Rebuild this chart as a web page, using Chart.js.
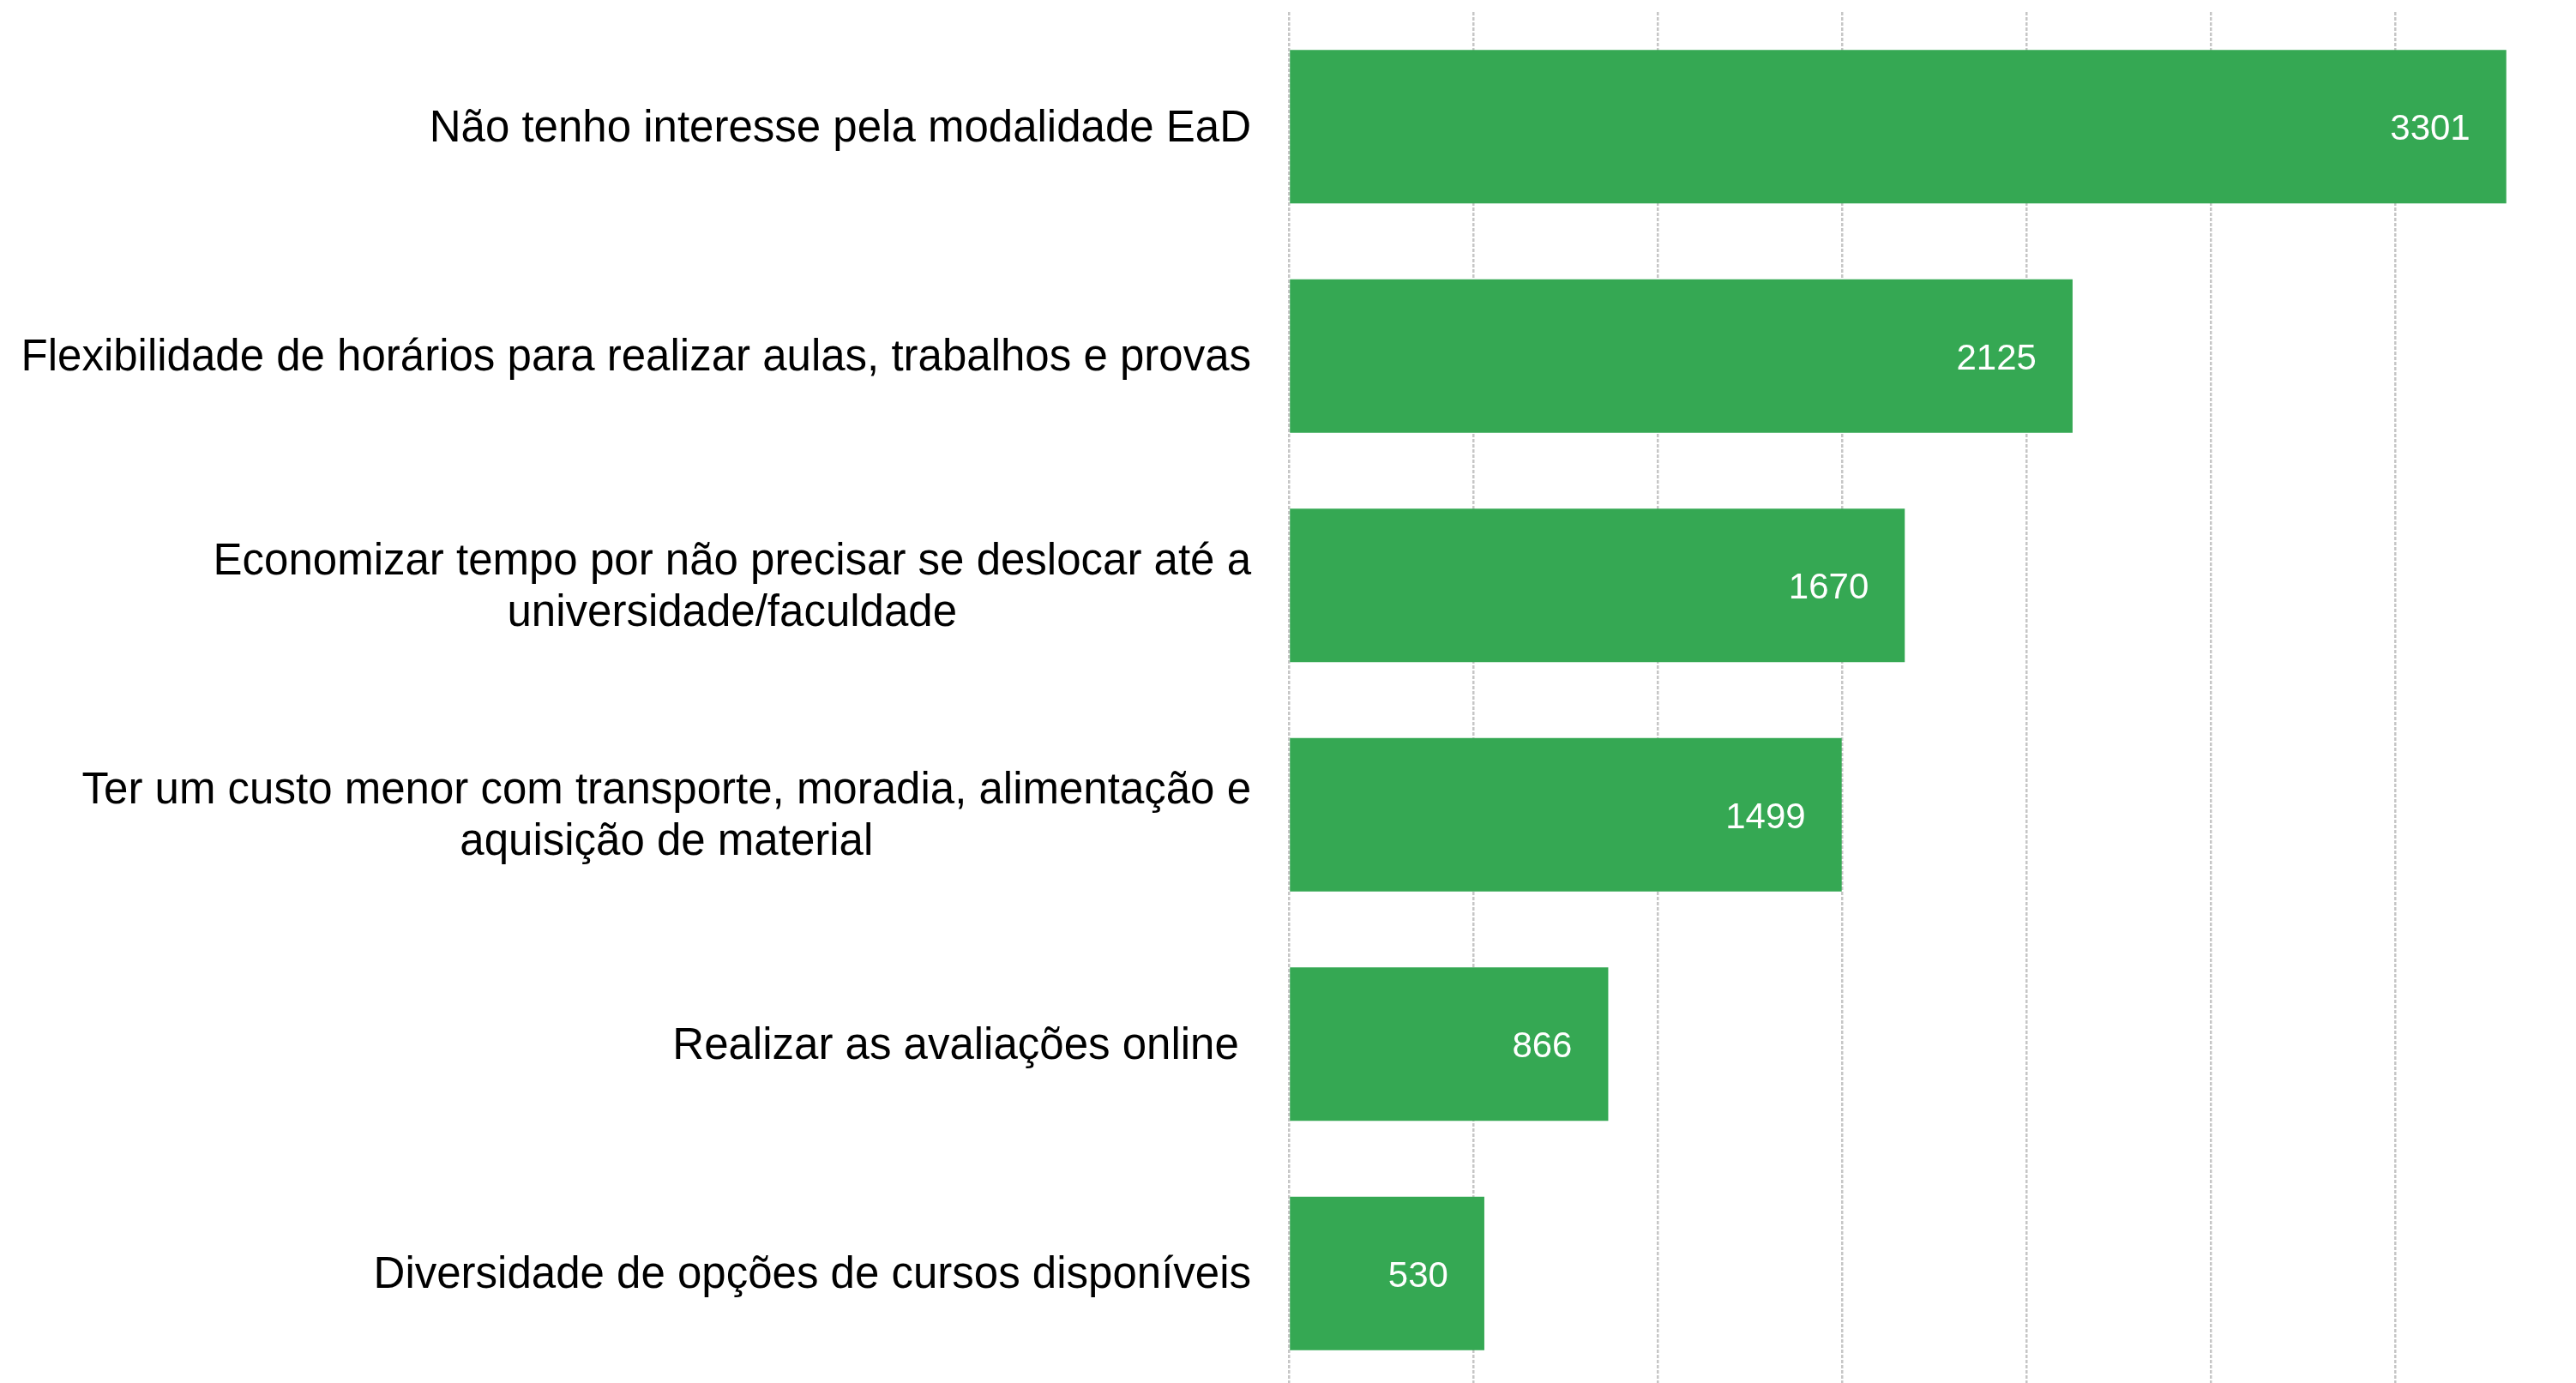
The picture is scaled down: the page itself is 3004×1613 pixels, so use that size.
<!DOCTYPE html>
<html>
<head>
<meta charset="utf-8">
<script src="https://cdn.jsdelivr.net/npm/chart.js@4/dist/chart.umd.min.js"></script>
<style>
  html, body { margin: 0; padding: 0; background: #fff; overflow: hidden; }
  #wrap { position: relative; width: 3004px; height: 1620px; }
</style>
</head>
<body>
<div id="wrap"><canvas id="chart"></canvas></div>
<script>
    const categories = [
      ['Não tenho interesse pela modalidade EaD'],
      ['Flexibilidade de horários para realizar aulas, trabalhos e provas'],
      ['Economizar tempo por não precisar se deslocar até a', 'universidade/faculdade'],
      ['Ter um custo menor com transporte, moradia, alimentação e', 'aquisição de material'],
      ['Realizar as avaliações online '],
      ['Diversidade de opções de cursos disponíveis']
    ];
    const values = [3301, 2125, 1670, 1499, 866, 530];
    const xTicks = [0, 500, 1000, 1500, 2000, 2500, 3000];

    const FONT = '"Liberation Sans", Arial, sans-serif';
    const barColor = '#35a853';

    // category labels: block right-aligned, lines centered inside the block
    const labelPlugin = {
      id: 'catLabels',
      afterDraw(chart) {
        const ctx = chart.ctx;
        const yScale = chart.scales.y;
        const right = chart.chartArea.left - 44;
        ctx.save();
        ctx.font = '51px ' + FONT;
        ctx.fillStyle = '#000';
        ctx.textAlign = 'center';
        ctx.textBaseline = 'middle';
        categories.forEach((lines, i) => {
          const y = yScale.getPixelForTick(i) + 3;
          const w = Math.max(...lines.map(l => ctx.measureText(l).width));
          const cx = right - w / 2;
          const lh = 60;
          const top = y - (lines.length - 1) * lh / 2;
          lines.forEach((l, j) => ctx.fillText(l, cx, top + j * lh));
        });
        ctx.restore();
      }
    };

    // value labels inside the bar end
    const valuePlugin = {
      id: 'valueLabels',
      afterDatasetsDraw(chart) {
        const ctx = chart.ctx;
        const meta = chart.getDatasetMeta(0);
        ctx.save();
        ctx.font = '42px ' + FONT;
        ctx.fillStyle = '#fff';
        ctx.textAlign = 'right';
        ctx.textBaseline = 'middle';
        meta.data.forEach((bar, i) => {
          ctx.fillText(String(values[i]), bar.x - 42, bar.y + 4);
        });
        ctx.restore();
      }
    };

    new Chart(document.getElementById('chart'), {
      type: 'bar',
      data: {
        labels: categories.map(c => c.join(' ')),
        datasets: [{
          data: values,
          backgroundColor: barColor,
          borderWidth: 0,
          categoryPercentage: 1,
          barPercentage: 0.67
        }]
      },
      options: {
        indexAxis: 'y',
        responsive: true,
        maintainAspectRatio: false,
        animation: false,
        layout: { padding: { top: 14, bottom: 1, left: 0, right: 0 } },
        plugins: { legend: { display: false }, tooltip: { enabled: false } },
        scales: {
          x: {
            min: 0,
            max: 3490,
            ticks: { display: false, stepSize: 500 },
            afterBuildTicks: axis => { axis.ticks = xTicks.map(v => ({ value: v })); },
            afterFit: axis => { axis.height = 0; },
            grid: { color: '#c6c6c6', lineWidth: 2.5, drawTicks: false },
            border: { display: false, dash: [4, 2] }
          },
          y: {
            ticks: { display: false },
            afterFit: axis => { axis.width = 1503; },
            grid: { display: false, drawTicks: false },
            border: { display: false }
          }
        }
      },
      plugins: [labelPlugin, valuePlugin]
    });
</script>
</body>
</html>
